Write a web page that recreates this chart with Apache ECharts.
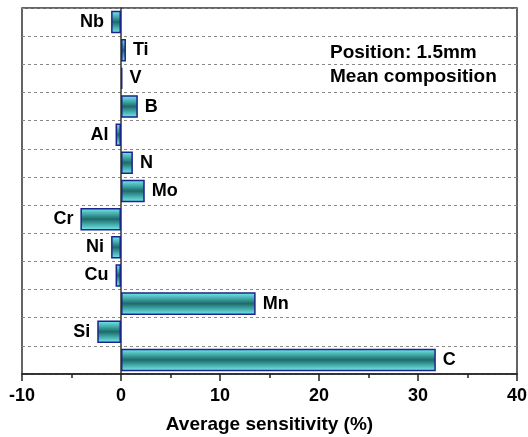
<!DOCTYPE html>
<html>
<head>
<meta charset="utf-8">
<script src="https://cdn.jsdelivr.net/npm/echarts@6/dist/echarts.min.js"></script>
<style>
  html, body { margin: 0; padding: 0; background: #fff; }
  #chart { width: 528px; height: 437px; }
</style>
</head>
<body>
<div id="chart"></div>
<script>
// element names, top to bottom
const elements = ['Nb', 'Ti', 'V', 'B', 'Al', 'N', 'Mo', 'Cr', 'Ni', 'Cu', 'Mn', 'Si', 'C']
// average sensitivity (%)
const sensitivity = [-1.0, 0.5, 0.15, 1.7, -0.55, 1.2, 2.4, -4.1, -1.0, -0.55, 13.6, -2.4, 31.8]
const xTicks = { min: -10, max: 40, interval: 10 }
const noteLines = ['Position: 1.5mm', 'Mean composition']

const font = 'Liberation Sans, Arial, sans-serif'
const myChart = echarts.init(document.getElementById('chart'))

const barFill = new echarts.graphic.LinearGradient(0, 0, 0, 1, [
  { offset: 0, color: '#74f2f2' },
  { offset: 0.5, color: '#1d6b6b' },
  { offset: 1, color: '#74f2f2' }
])

myChart.setOption({
  animation: false,
  textStyle: { fontFamily: font },
  grid: {
    left: 22, right: 11, top: 8, bottom: 63,
    outerBoundsMode: 'none',
    show: true, borderColor: '#333', borderWidth: 1.5
  },
  xAxis: {
    type: 'value',
    min: xTicks.min, max: xTicks.max, interval: xTicks.interval,
    splitLine: { show: false },
    axisLine: { show: true, onZero: false, lineStyle: { color: '#222', width: 1.5 } },
    axisTick: { show: true, length: 7, lineStyle: { color: '#222', width: 1.5 } },
    minorTick: { show: true, splitNumber: 2, length: 4, lineStyle: { color: '#222', width: 1.5 } },
    axisLabel: { color: '#000', fontWeight: 'bold', fontSize: 18, margin: 13 },
    name: 'Average sensitivity (%)',
    nameLocation: 'middle',
    nameGap: 41,
    nameTextStyle: { color: '#000', fontWeight: 'bold', fontSize: 19 }
  },
  yAxis: {
    type: 'category',
    data: elements,
    inverse: true,
    axisLine: { show: true, onZero: true, lineStyle: { color: '#333', width: 1.5 } },
    axisTick: { show: false },
    axisLabel: { show: false },
    splitLine: { show: true, lineStyle: { color: '#888', type: [3, 3], width: 1 } }
  },
  series: [{
    type: 'bar',
    barWidth: '80%',
    data: sensitivity.map((v, i) => ({
      value: v,
      label: {
        show: true,
        position: v < 0 ? 'left' : 'right',
        distance: 7,
        formatter: elements[i],
        color: '#000',
        fontWeight: 'bold',
        fontSize: 18
      }
    })),
    itemStyle: { color: barFill, borderColor: '#1c238a', borderWidth: 1.5 }
  }],
  graphic: [{
    type: 'text',
    left: 330, top: 41,
    style: {
      text: noteLines.join('\n'),
      font: 'bold 19px ' + font,
      lineHeight: 24,
      fill: '#000'
    }
  }]
})
</script>
</body>
</html>
